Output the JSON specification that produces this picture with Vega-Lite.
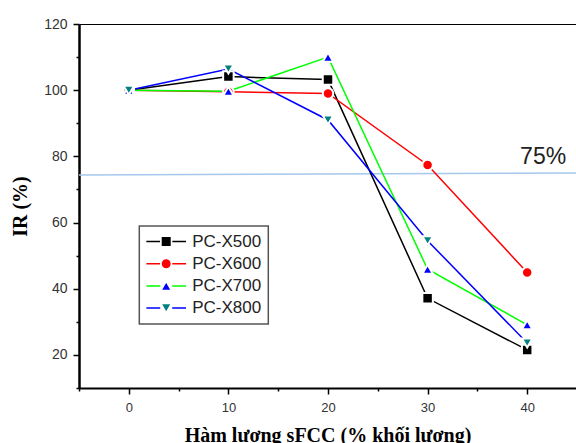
{
  "$schema": "https://vega.github.io/schema/vega-lite/v6.json",
  "width": 497,
  "height": 364,
  "autosize": {"type": "none"},
  "padding": {"left": 79, "top": 24, "right": 0, "bottom": 55},
  "background": "white",
  "config": {"view": {"stroke": null}, "axis": {"grid": false}},
  "datasets": {
    "series": [
      {"series": "PC-X500", "x": 0, "y": 100},
      {"series": "PC-X500", "x": 10, "y": 104.1},
      {"series": "PC-X500", "x": 20, "y": 103.2},
      {"series": "PC-X500", "x": 30, "y": 37.1},
      {"series": "PC-X500", "x": 40, "y": 21.5},
      {"series": "PC-X600", "x": 0, "y": 100},
      {"series": "PC-X600", "x": 10, "y": 99.5},
      {"series": "PC-X600", "x": 20, "y": 99},
      {"series": "PC-X600", "x": 30, "y": 77.4},
      {"series": "PC-X600", "x": 40, "y": 44.9},
      {"series": "PC-X700", "x": 0, "y": 100},
      {"series": "PC-X700", "x": 10, "y": 99.7},
      {"series": "PC-X700", "x": 20, "y": 110},
      {"series": "PC-X700", "x": 30, "y": 45.9},
      {"series": "PC-X700", "x": 40, "y": 29.1},
      {"series": "PC-X800", "x": 0, "y": 100},
      {"series": "PC-X800", "x": 10, "y": 106.4},
      {"series": "PC-X800", "x": 20, "y": 91},
      {"series": "PC-X800", "x": 30, "y": 54.5},
      {"series": "PC-X800", "x": 40, "y": 23.6}
    ],
    "ref": [{"x": -5, "y": 74.4}, {"x": 44.9, "y": 75.0}],
    "note": [{"x": 41.6, "y": 77.6, "label": "75%"}]
  },
  "resolve": {"axis": {"x": "independent"}},
  "encoding": {
    "y": {
      "field": "y", "type": "quantitative",
      "scale": {"domain": [10, 120], "nice": false, "zero": false},
      "axis": {
        "values": [10, 20, 30, 40, 50, 60, 70, 80, 90, 100, 110, 120],
        "labelExpr": "datum.value % 20 === 0 ? datum.label : ''",
        "labelOverlap": false,
        "tickSize": {"condition": {"test": "datum.value % 20 === 0", "value": 6}, "value": 3},
        "tickWidth": 1.5,
        "tickColor": "black",
        "domainColor": "black",
        "domainWidth": 2.5,
        "labelFont": "Liberation Sans",
        "labelFontSize": 14,
        "labelColor": "#333",
        "labelPadding": 6,
        "title": "IR (%)",
        "titleFont": "Liberation Serif",
        "titleFontSize": 20,
        "titleFontWeight": "bold",
        "titleColor": "black",
        "titleBaseline": "alphabetic",
        "titleX": -52.3
      }
    }
  },
  "layer": [
    {
      "data": {"name": "ref"},
      "mark": {"type": "line", "color": "#a5c8ec", "strokeWidth": 1.5},
      "encoding": {
        "x": {
          "field": "x", "type": "quantitative",
          "scale": {"domain": [-5, 44.9], "nice": false, "zero": false},
          "axis": {"orient": "top", "labels": false, "ticks": false, "domainColor": "black", "domainWidth": 1, "title": null}
        }
      }
    },
    {
      "data": {"name": "series"},
      "mark": {"type": "line", "strokeWidth": 1.5},
      "encoding": {
        "x": {
          "field": "x", "type": "quantitative",
          "axis": {
            "orient": "bottom",
            "values": [-5, 0, 5, 10, 15, 20, 25, 30, 35, 40],
            "labelExpr": "datum.value % 10 === 0 ? datum.label : ''",
            "labelOverlap": false,
            "tickSize": {"condition": {"test": "datum.value % 10 === 0", "value": 6}, "value": 3},
            "tickWidth": 1.5,
            "tickColor": "black",
            "domainColor": "black",
            "domainWidth": 2,
            "labelFont": "Liberation Sans",
            "labelFontSize": 13,
            "labelColor": "#333",
            "labelPadding": 7,
            "title": "Hàm lượng sFCC (% khối lượng)",
            "titleFont": "Liberation Serif",
            "titleFontSize": 20,
            "titleFontWeight": "bold",
            "titleColor": "black",
            "titleBaseline": "alphabetic",
            "titleY": 53.5
          }
        },
        "stroke": {
          "field": "series", "type": "nominal",
          "scale": {"domain": ["PC-X500", "PC-X600", "PC-X700", "PC-X800"], "range": ["#000000", "#ff0000", "#00ff00", "#0000ff"]},
          "legend": {
            "title": null,
            "orient": "none",
            "legendX": 60.3,
            "legendY": 202,
            "padding": 7,
            "strokeColor": "#555",
            "symbolType": "M-4.3,0H-1.3M1.3,0H4.3",
            "symbolSize": 85,
            "symbolStrokeWidth": 1.5,
            "symbolOffset": 11.4,
            "labelOffset": 17.5,
            "labelFont": "Liberation Sans",
            "labelFontSize": 17,
            "labelColor": "#222",
            "rowPadding": 4.2,
            "encode": {"legend": {"update": {"strokeWidth": {"value": 1.5}}}}
          }
        }
      }
    },
    {
      "data": {"name": "series"},
      "mark": {"type": "point", "filled": true, "size": 110, "stroke": "white", "strokeWidth": 2, "opacity": 1},
      "encoding": {
        "x": {"field": "x", "type": "quantitative", "axis": null},
        "fill": {
          "field": "series", "type": "nominal",
          "scale": {"range": ["#000000", "#ff0000", "#0000ff", "#008080"]},
          "legend": {
            "title": null,
            "orient": "none",
            "legendX": 60.3,
            "legendY": 202,
            "padding": 7,
            "symbolSize": 110,
            "symbolOffset": 11.4,
            "labelOffset": 17.5,
            "labelFont": "Liberation Sans",
            "labelFontSize": 17,
            "labelOpacity": 0,
            "rowPadding": 4.2,
            "encode": {"symbols": {"update": {"stroke": {"value": "white"}, "strokeWidth": {"value": 1.5}}}}
          }
        },
        "shape": {
          "field": "series", "type": "nominal",
          "scale": {"range": ["square", "circle", "triangle-up", "triangle-down"]},
          "legend": {
            "title": null,
            "orient": "none",
            "legendX": 60.3,
            "legendY": 202,
            "padding": 7,
            "symbolSize": 110,
            "symbolOffset": 11.4,
            "labelOffset": 17.5,
            "labelFont": "Liberation Sans",
            "labelFontSize": 17,
            "labelOpacity": 0,
            "rowPadding": 4.2,
            "encode": {"symbols": {"update": {"stroke": {"value": "white"}, "strokeWidth": {"value": 1.5}}}}
          }
        }
      }
    },
    {
      "data": {"name": "note"},
      "mark": {"type": "text", "font": "Liberation Sans", "fontSize": 23, "color": "#222", "align": "center", "baseline": "alphabetic"},
      "encoding": {
        "x": {"field": "x", "type": "quantitative", "axis": null},
        "text": {"field": "label", "type": "nominal"}
      }
    }
  ]
}
